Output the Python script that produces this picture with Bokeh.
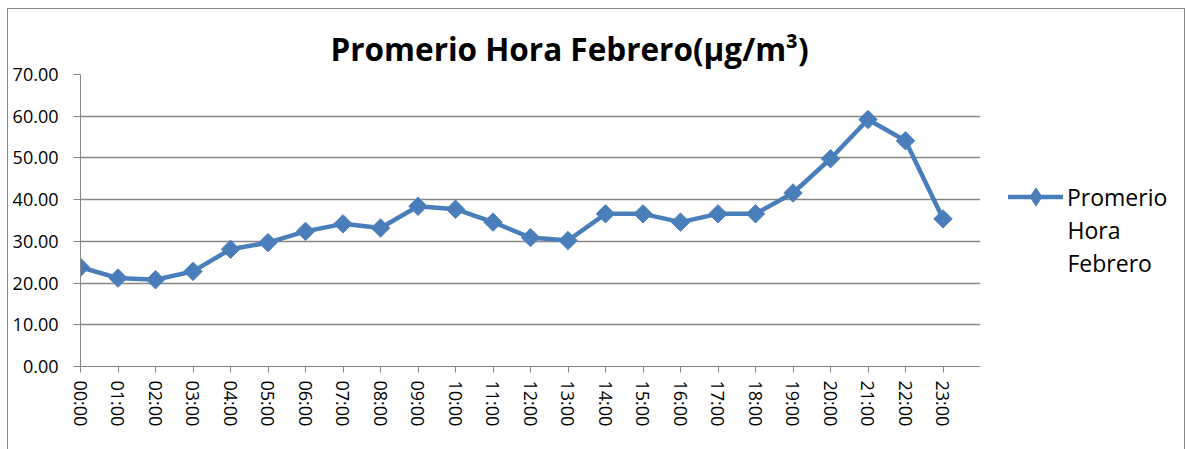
import math
from bokeh.plotting import figure
from bokeh.layouts import row
from bokeh.models import (Range1d, FixedTicker, Legend, LegendItem, Label,
                          NumeralTickFormatter)
from bokeh.embed import file_html
from bokeh.resources import INLINE

# ---- data ----
hours = ["00:00", "01:00", "02:00", "03:00", "04:00", "05:00", "06:00", "07:00",
         "08:00", "09:00", "10:00", "11:00", "12:00", "13:00", "14:00", "15:00",
         "16:00", "17:00", "18:00", "19:00", "20:00", "21:00", "22:00", "23:00"]
values = [23.8, 21.2, 20.8, 22.8, 28.1, 29.7, 32.4, 34.2, 33.2, 38.4, 37.7, 34.6,
          30.9, 30.2, 36.6, 36.6, 34.6, 36.6, 36.6, 41.6, 49.8, 59.2, 54.1, 35.4]
y_ticks = [0, 10, 20, 30, 40, 50, 60, 70]
title_text = "Promerio Hora Febrero(µg/m³)"
series_name = ["Promerio", "Hora", "Febrero"]

FONT = "Open Sans"
BLUE = "#4A7EBB"
GREY = "#868686"

xs = list(range(len(hours)))

# ---------------- main chart ----------------
p = figure(width=972, height=440, output_backend="svg", toolbar_location=None,
           x_range=Range1d(0, len(hours)), y_range=Range1d(0, 70),
           min_border_left=72, min_border_right=0, min_border_top=65,
           min_border_bottom=83)
p.outline_line_color = None
p.background_fill_color = "white"
p.border_fill_color = "white"

p.title.text = title_text
p.title.text_font = FONT
p.title.text_font_size = "31.5px"
p.title.text_font_style = "bold"
p.title.text_color = "black"
p.title.align = "left"
p.title.offset = 250

p.yaxis.ticker = FixedTicker(ticks=y_ticks)
p.yaxis.formatter = NumeralTickFormatter(format="0.00")
p.yaxis.major_label_text_font = FONT
p.yaxis.major_label_text_font_size = "18px"
p.yaxis.major_label_text_color = "black"
p.yaxis.axis_line_color = GREY
p.yaxis.major_tick_line_color = GREY
p.yaxis.major_tick_out = 7
p.yaxis.major_tick_in = 0
p.yaxis.minor_tick_line_color = None
p.yaxis.major_label_standoff = 15

p.xaxis.ticker = FixedTicker(ticks=xs)
p.xaxis.major_label_overrides = {i: h for i, h in zip(xs, hours)}
p.xaxis.major_label_orientation = -math.pi / 2
p.xaxis.major_label_text_font = FONT
p.xaxis.major_label_text_font_size = "18px"
p.xaxis.major_label_text_color = "black"
p.xaxis.axis_line_color = GREY
p.xaxis.major_tick_line_color = GREY
p.xaxis.major_tick_out = 6
p.xaxis.major_tick_in = 0
p.xaxis.minor_tick_line_color = None
p.xaxis.major_label_standoff = 8

p.xgrid.grid_line_color = None
p.ygrid.ticker = FixedTicker(ticks=y_ticks)
p.ygrid.grid_line_color = GREY
p.ygrid.grid_line_width = 1.3

p.line(xs, values, line_color=BLUE, line_width=4.5)
p.scatter(xs, values, marker="square", angle=math.pi / 4, size=13,
          fill_color=BLUE, line_color=BLUE)

# ---------------- legend panel ----------------
# x range placed so the series data sit outside this panel's frame; the
# renderers exist only to give the legend its line+diamond glyph.
q = figure(width=204, height=440, output_backend="svg", toolbar_location=None,
           x_range=Range1d(100, 304), y_range=Range1d(0, 70),
           min_border=0, x_axis_type=None, y_axis_type=None)
q.outline_line_color = None
q.grid.visible = False
q.background_fill_color = "white"
q.border_fill_color = "white"

q_ln = q.line(xs, values, line_color=BLUE, line_width=4.5, line_cap="round")
q_mk = q.scatter(xs, values, marker="diamond", fill_color=BLUE, line_color=BLUE)

legend = Legend(items=[LegendItem(label=series_name[0], renderers=[q_ln, q_mk])],
                location=(28, 147), glyph_width=55, glyph_height=45,
                label_standoff=4, padding=0, margin=0, spacing=0,
                border_line_color=None, background_fill_alpha=0,
                label_text_font=FONT, label_text_font_size="23px",
                label_text_color="black")
q.add_layout(legend, "center")

for name, yv in zip(series_name[1:], [32.8, 24.9]):
    q.add_layout(Label(x=187, y=yv, text=name, text_font=FONT,
                       text_font_size="23px", text_color="black",
                       text_baseline="middle", text_align="left"))

layout = row(p, q, spacing=0)
layout.styles = {"border-left": "1px solid #868686",
                 "border-top": "1px solid #868686",
                 "border-right": "1px solid #868686",
                 "margin-left": "7px", "margin-top": "8px"}

open("out.html", "w").write(file_html(layout, INLINE))
